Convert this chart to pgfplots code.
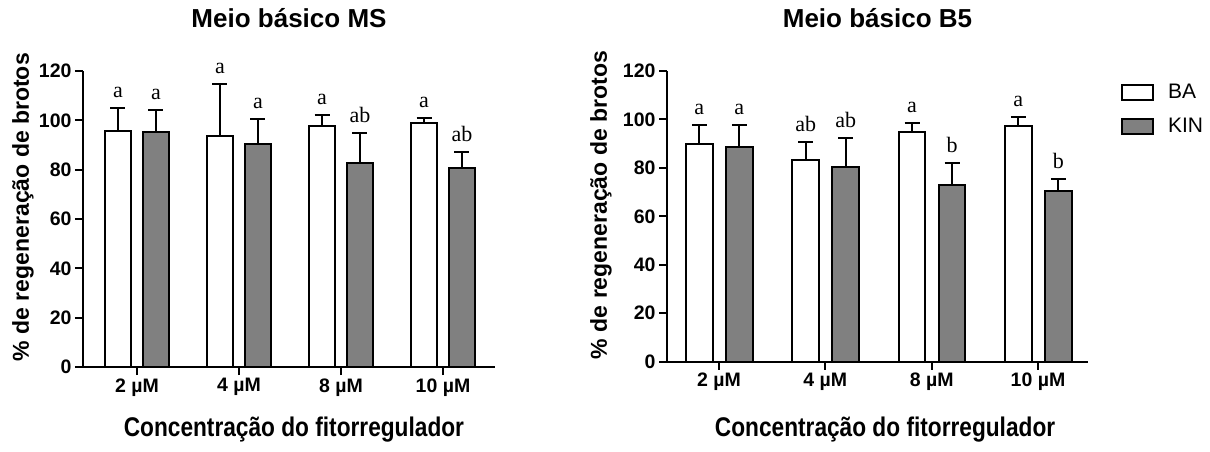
\documentclass[border=0pt]{standalone}
\usepackage{fontspec}
\setmainfont{Liberation Sans}
\newfontfamily\condfont{Liberation Sans}[FakeStretch=0.84]
\newfontfamily\seriffont{Liberation Serif}
\usepackage{pgfplots}
\pgfplotsset{compat=1.18}
\usepackage{pgfplotstable}

% Meio basico MS
\pgfplotstableread{
x y err
0 95.8 9.3
1 93.6 21.1
2 97.7 4.4
3 98.8 2.0
}\msBA
\pgfplotstableread{
x y err
0 95.4 8.8
1 90.3 10.3
2 82.8 11.9
3 80.5 6.5
}\msKIN
\pgfplotstableread{
x y lab
-0.186 105.1 a
0.814 114.7 a
1.814 102.1 a
2.814 100.8 a
0.186 104.2 a
1.186 100.6 a
2.186 94.7 ab
3.186 87.0 ab
}\msLab
% Meio basico B5
\pgfplotstableread{
x y err
0 89.7 8.0
1 83.3 7.3
2 95.0 3.4
3 97.3 3.9
}\bBA
\pgfplotstableread{
x y err
0 88.6 9.1
1 80.5 11.7
2 72.8 9.1
3 70.5 4.9
}\bKIN
\pgfplotstableread{
x y lab
-0.185 97.7 a
0.815 90.6 ab
1.815 98.4 a
2.815 101.2 a
0.191 97.7 a
1.191 92.2 ab
2.191 81.9 b
3.191 75.4 b
}\bLab

\pgfplotsset{
  common/.style={
    scale only axis,
    axis x line*=bottom,
    axis y line*=left,
    ymin=0, ymax=120,
    ytick={0,20,40,60,80,100,120},
    xtick={0,1,2,3},
    xticklabels={2 µM,4 µM,8 µM,10 µM},
    tick align=outside,
    major tick length=8pt,
    tick style={line width=2pt, black},
    axis line style={line width=2pt, black},
    /pgf/number format/assume math mode=true,
    ticklabel style={font=\bfseries\fontsize{19.5}{21}\selectfont},
    title style={font=\bfseries\fontsize{26}{28}\selectfont, anchor=base, at={(axis description cs:0.5,1)}, yshift=37pt},
    ylabel style={font=\bfseries\fontsize{23}{25}\selectfont, anchor=center},
    xlabel style={font=\condfont\bfseries\fontsize{27}{29}\selectfont, anchor=base},
    clip=false,
  },
  errstyle/.style={draw=none, mark=none, forget plot,
    error bars/.cd, y dir=plus, y explicit,
    error bar style={line width=2pt, black, solid},
    error mark options={rotate=90, mark size=7.5pt, line width=2pt, black}},
  labstyle/.style={draw=none, mark=none, forget plot, nodes near coords, point meta=explicit symbolic,
    nodes near coords style={inner sep=0pt, yshift=10pt, font=\seriffont\fontsize{22}{24}\selectfont, text=black}},
}

\begin{document}
\begin{tikzpicture}
\path[use as bounding box] (0,0) rectangle (1210pt,452pt);

\begin{axis}[common,
  at={(83pt,85pt)}, anchor=south west,
  width=412pt, height=296pt,
  xmin=-0.529, xmax=3.51,
  title={Meio básico MS},
  ylabel={\% de regeneração de brotos},
  ylabel style={at={(axis description cs:-0.1456,0.54)}},
  xlabel={Concentração do fitorregulador},
  xlabel style={at={(axis description cs:0.512,0)}, yshift=-70pt},
]
\addplot[ybar, bar width=26pt, bar shift=-19pt, fill=white, draw=black, line width=2pt]
  table[x=x, y=y] {\msBA};
\addplot[ybar, bar width=26pt, bar shift=19pt, fill=gray, draw=black, line width=2pt]
  table[x=x, y=y] {\msKIN};
\addplot[errstyle] table[x expr=\thisrow{x}-0.186, y=y, y error=err] {\msBA};
\addplot[errstyle] table[x expr=\thisrow{x}+0.186, y=y, y error=err] {\msKIN};
\addplot[labstyle] table[x=x, y=y, meta=lab] {\msLab};
\end{axis}

\begin{axis}[common,
  at={(667pt,90.3pt)}, anchor=south west,
  width=421pt, height=290.7pt,
  xmin=-0.489, xmax=3.47,
  title={Meio básico B5},
  ylabel={\% de regeneração de brotos},
  ylabel style={at={(axis description cs:-0.157,0.539)}},
  xlabel={Concentração do fitorregulador},
  xlabel style={at={(axis description cs:0.518,0)}, yshift=-75pt},
  legend style={draw=none, fill=none, at={(axis description cs:1.078,0.962)}, anchor=north west,
    font=\fontsize{21}{23}\selectfont, inner sep=0pt, row sep=14pt,
    /tikz/every odd column/.append style={column sep=12pt}},
  legend cell align=left,
]
\addplot[ybar, bar width=26.7pt, bar shift=-19.7pt, fill=white, draw=black, line width=2pt,
  legend image code/.code={\draw[line width=2pt, fill=white] (0pt,-7.5pt) rectangle (31pt,7.5pt);}]
  table[x=x, y=y] {\bBA};
\addlegendentry{BA}
\addplot[ybar, bar width=26.7pt, bar shift=20.3pt, fill=gray, draw=black, line width=2pt,
  legend image code/.code={\draw[line width=2pt, fill=gray] (0pt,-7.5pt) rectangle (31pt,7.5pt);}]
  table[x=x, y=y] {\bKIN};
\addlegendentry{KIN}
\addplot[errstyle] table[x expr=\thisrow{x}-0.185, y=y, y error=err] {\bBA};
\addplot[errstyle] table[x expr=\thisrow{x}+0.191, y=y, y error=err] {\bKIN};
\addplot[labstyle] table[x=x, y=y, meta=lab] {\bLab};
\end{axis}
\end{tikzpicture}
\end{document}
